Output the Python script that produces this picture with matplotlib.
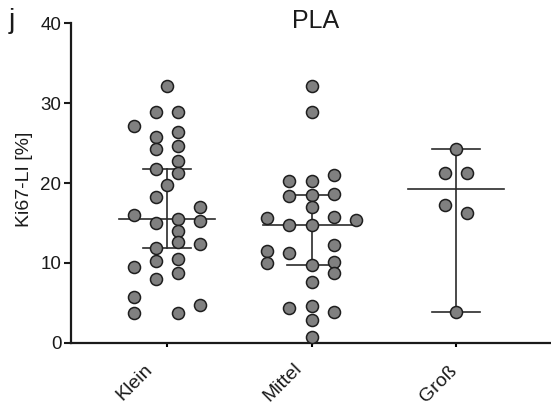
import matplotlib
matplotlib.use("Agg")
import matplotlib.pyplot as plt
from matplotlib.transforms import ScaledTranslation
import numpy as np

plt.rcParams['font.family'] = ['Liberation Sans', 'DejaVu Sans']

categories = ["Klein", "Mittel", "Groß"]

klein_values = [32.1, 28.9, 28.9, 27.1, 25.75, 24.2, 26.4, 24.6, 22.8, 21.7,
                21.25, 19.7, 18.3, 17.0, 16.0, 15.3, 15.0, 15.5, 14.0, 12.6,
                12.4, 11.9, 10.25, 10.5, 9.5, 8.7, 8.0, 5.75, 3.75, 3.75, 4.7]
klein_slot = [0, -0.5, 0.5, -1.5, -0.5, -0.5, 0.5, 0.5, 0.5, -0.5,
              0.5, 0, -0.5, 1.5, -1.5, 1.5, -0.5, 0.5, 0.5, 0.5,
              1.5, -0.5, -0.5, 0.5, -1.5, 0.5, -0.5, -1.5, -1.5, 0.5, 1.5]

mittel_values = [32.1, 28.9, 20.3, 20.3, 21.05, 18.4, 18.46, 18.6, 17.0, 15.6,
                 14.7, 14.7, 15.75, 15.4, 12.2, 11.5, 11.2, 10.0, 9.7, 10.1,
                 8.7, 7.55, 4.3, 4.6, 3.8, 2.9, 0.75]
mittel_slot = [0, 0, -1, 0, 1, -1, 0, 1, 0, -2,
               -1, 0, 1, 2, 1, -2, -1, -2, 0, 1,
               1, 0, -1, 0, 1, 0, 0]

gross_values = [24.3, 21.3, 21.2, 17.2, 16.2, 3.9]
gross_slot = [0, -0.5, 0.5, -0.5, 0.5, 0]

# median with 95% CI of the median
medians = [15.5, 14.7, 19.2]
ci_low = [11.9, 9.7, 3.9]
ci_high = [21.7, 18.46, 24.3]

groups = [(klein_values, klein_slot), (mittel_values, mittel_slot),
          (gross_values, gross_slot)]

fig = plt.figure(figsize=(5.51, 4.17), dpi=100)
ax = fig.add_axes([71 / 551, 74.3 / 417, 481 / 551, 319.4 / 417])

slot_w = 0.153
line_col = "#2b2b2b"
for i, (vals, slots) in enumerate(groups):
    ax.plot([i - 1 / 3, i + 1 / 3], [medians[i]] * 2, color=line_col, lw=1.2, zorder=2)
    ax.plot([i, i], [ci_low[i], ci_high[i]], color=line_col, lw=1.2, zorder=2)
    for y in (ci_low[i], ci_high[i]):
        ax.plot([i - 1 / 6, i + 1 / 6], [y, y], color=line_col, lw=1.2, zorder=2)
    xs = i + np.array(slots) * slot_w
    ax.scatter(xs, vals, s=75, facecolor="#808080", edgecolor="#1e1e1e",
               linewidth=1.1, zorder=3, clip_on=False)

ax.set_xlim(-2 / 3, 8 / 3)
ax.set_ylim(0, 40)
ax.set_yticks([0, 10, 20, 30, 40])
ax.set_xticks(range(len(categories)))
ax.tick_params(axis="y", labelsize=13.5, length=5, width=1.5, colors="#1a1a1a", pad=2)
ax.tick_params(axis="x", length=3, width=1.5, pad=6)
ax.set_xticklabels(categories, rotation=45, ha="right", rotation_mode="anchor",
                   fontsize=14, color="#1a1a1a")
# nudge each slanted label (pixel offsets at 100 dpi)
label_nudge = [(-23, -6), (-18, -5), (-7, -7)]
for lab, (dx, dy) in zip(ax.get_xticklabels(), label_nudge):
    lab.set_transform(lab.get_transform()
                      + ScaledTranslation(dx / 100, dy / 100, fig.dpi_scale_trans))

for s in ("top", "right"):
    ax.spines[s].set_visible(False)
for s in ("left", "bottom"):
    ax.spines[s].set_linewidth(1.6)
    ax.spines[s].set_color("#1a1a1a")

ax.set_ylabel("Ki67-LI [%]", fontsize=14, color="#1a1a1a")
ax.yaxis.set_label_coords(-0.08, 0.5125)
fig.text(316 / 551, 1 - 28.5 / 417, "PLA", fontsize=18, color="#1a1a1a",
         ha="center", va="baseline")
fig.text(9 / 551, 1 - 28 / 417, "j", fontsize=20, color="#1a1a1a",
         ha="left", va="baseline")

fig.savefig("out.png", dpi=100)
